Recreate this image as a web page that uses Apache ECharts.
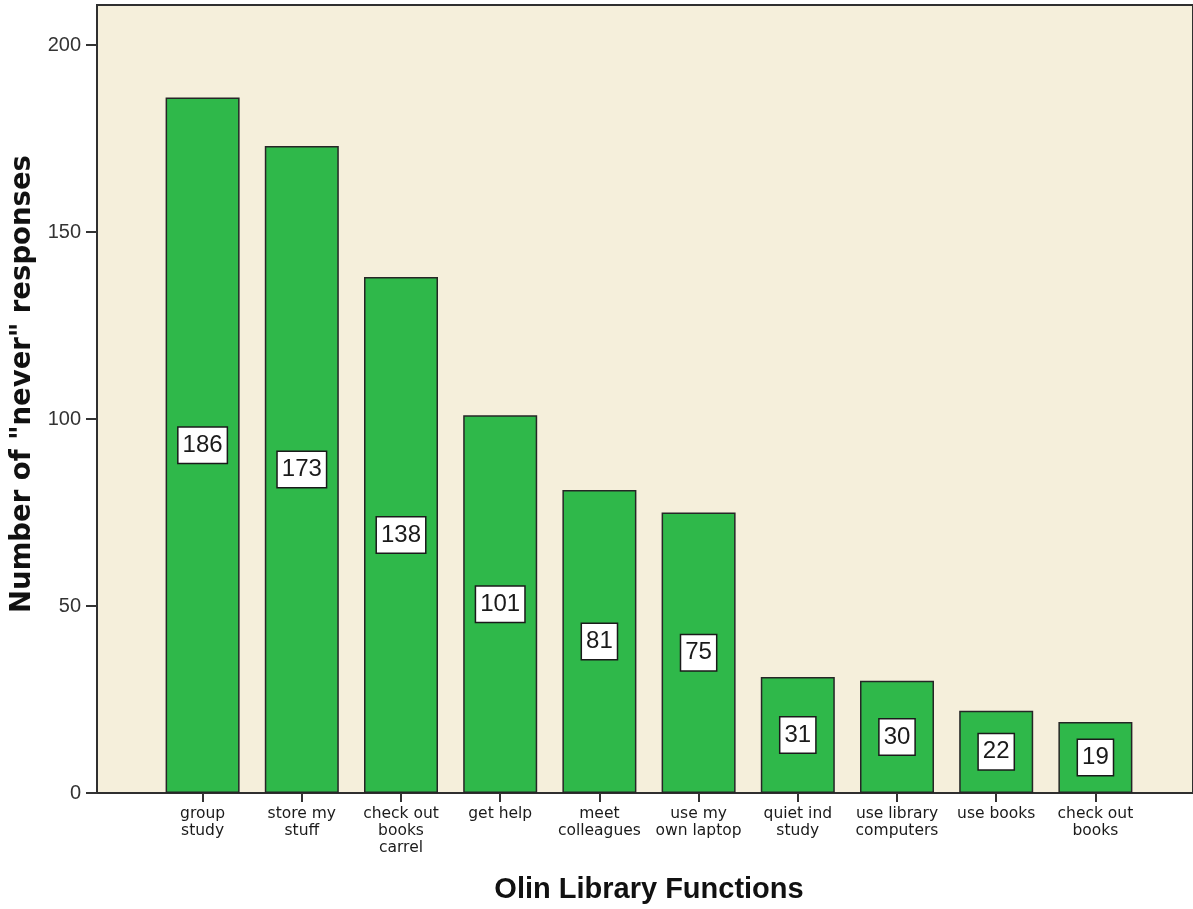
<!DOCTYPE html>
<html>
<head>
<meta charset="utf-8">
<script src="https://cdn.jsdelivr.net/npm/echarts@6/dist/echarts.min.js"></script>
<style>
  html, body { margin: 0; padding: 0; background: #fff; }
  #chart { width: 1193px; height: 909px; }
</style>
</head>
<body>
<div id="chart"></div>
<script>
var categories = ['group\nstudy', 'store my\nstuff', 'check out\nbooks\ncarrel', 'get help', 'meet\ncolleagues',
                  'use my\nown laptop', 'quiet ind\nstudy', 'use library\ncomputers', 'use books', 'check out\nbooks'];
var neverCounts = [186, 173, 138, 101, 81, 75, 31, 30, 22, 19];
var yTicks = [0, 50, 100, 150, 200];
var yMax = 210.7;

var myChart = echarts.init(document.getElementById('chart'));
var option = {
    backgroundColor: '#ffffff',
    animation: false,
    grid: [
        {   // frame + beige plot background
            left: 97, right: -3, top: 5, bottom: 116,
            show: true,
            backgroundColor: '#f5efdb',
            borderColor: '#2f2f2f',
            borderWidth: 2
        },
        {   // bars
            left: 153, right: 48, top: 5, bottom: 116
        }
    ],
    xAxis: [
        { gridIndex: 0, type: 'value', show: false },
        {
            gridIndex: 1,
            type: 'category',
            data: categories,
            axisLine: { show: false },
            axisTick: { show: true, alignWithLabel: true, length: 9, lineStyle: { color: '#333', width: 2 } },
            axisLabel: {
                margin: 12,
                fontFamily: 'DejaVu Sans',
                fontSize: 15.5,
                lineHeight: 17,
                color: '#1a1a1a',
                interval: 0
            },
            name: 'Olin Library Functions',
            nameLocation: 'middle',
            nameGap: 82,
            nameTextStyle: {
                fontFamily: 'Liberation Sans',
                fontWeight: 'bold',
                fontSize: 29,
                color: '#111'
            }
        }
    ],
    yAxis: [
        {
            gridIndex: 0,
            type: 'value',
            min: 0,
            max: yMax,
            axisLine: { show: false },
            axisTick: { show: true, length: 11, customValues: yTicks, lineStyle: { color: '#333', width: 2 } },
            axisLabel: {
                customValues: yTicks,
                margin: 16,
                fontFamily: 'Liberation Sans',
                fontSize: 20,
                color: '#333'
            },
            splitLine: { show: false },
            name: 'Number of "never" responses',
            nameLocation: 'middle',
            nameGap: 42,
            nameTextStyle: {
                fontFamily: 'DejaVu Sans',
                fontWeight: 'bold',
                fontSize: 27.5,
                color: '#111',
                padding: [0, 0, 0, 30]
            }
        },
        { gridIndex: 1, type: 'value', min: 0, max: yMax, show: false }
    ],
    series: [
        {
            type: 'bar',
            xAxisIndex: 1,
            yAxisIndex: 1,
            data: neverCounts,
            barWidth: 74,
            itemStyle: {
                color: '#2fb84a',
                borderColor: '#262626',
                borderWidth: 1.5
            },
            label: {
                show: true,
                position: 'inside',
                fontFamily: 'Liberation Sans',
                fontSize: 24,
                color: '#1a1a1a',
                backgroundColor: '#ffffff',
                borderColor: '#1a1a1a',
                borderWidth: 1.5,
                padding: [6, 4, 5, 4]
            }
        }
    ]
};
myChart.setOption(option);
</script>
</body>
</html>
